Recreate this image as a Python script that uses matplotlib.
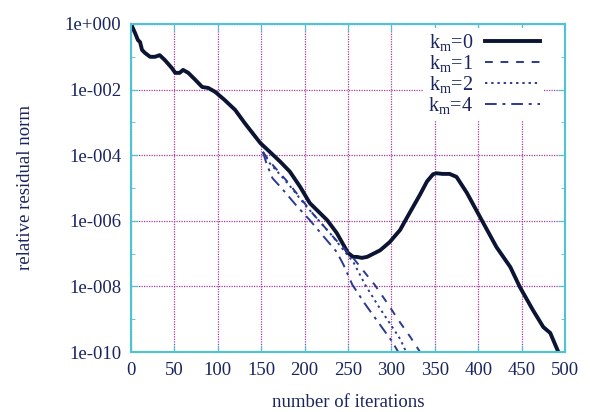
#!/usr/bin/env python3
"""Relative residual norm vs number of iterations for several k_m."""

import matplotlib
matplotlib.use("Agg")
import matplotlib.pyplot as plt
import numpy as np
from matplotlib.ticker import FixedLocator, FuncFormatter, NullFormatter

# km = 0 (exponents of 10)
k0_iter = [0, 4.6, 8, 10.4, 12.7, 16, 22, 27.6, 33, 39, 47, 51, 56, 60, 66, 74, 82, 89,
           97, 108, 120, 131, 149, 160, 172, 183, 195, 206, 226, 237, 250, 256, 260, 266,
           272, 287, 298, 310, 318, 333, 341, 348, 352, 359, 367, 375, 387, 402, 421, 437,
           448, 463, 475, 483, 492]
k0_log = [0.0, -0.27, -0.49, -0.55, -0.79, -0.88, -1.0, -1.0, -0.95, -1.1, -1.34, -1.49,
          -1.49, -1.4, -1.49, -1.7, -1.92, -1.95, -2.07, -2.32, -2.62, -3.02, -3.63, -3.9,
          -4.2, -4.5, -4.97, -5.46, -5.98, -6.37, -6.98, -7.1, -7.1, -7.13, -7.1, -6.9,
          -6.65, -6.28, -5.9, -5.2, -4.8, -4.58, -4.55, -4.57, -4.57, -4.66, -5.15, -5.88,
          -6.8, -7.41, -8.02, -8.72, -9.24, -9.42, -9.98]

# km = 1
k1_iter = [152, 160, 170, 180, 195, 210, 225, 240, 255, 267, 281, 295, 310, 322, 333]
k1_log = [-3.9, -4.2, -4.5, -4.8, -5.3, -5.8, -6.25, -6.7, -7.1, -7.5, -7.96, -8.5,
          -9.1, -9.55, -10.0]

# km = 2
k2_iter = [152, 160, 172, 185, 200, 215, 230, 245, 256, 270, 285, 300, 310, 317]
k2_log = [-3.9, -4.25, -4.6, -5.0, -5.5, -5.95, -6.4, -6.9, -7.25, -7.96, -8.6, -9.2,
          -9.6, -10.0]

# km = 4
k4_iter = [152, 156, 163, 175, 191, 206, 221, 237, 245, 255, 270, 285, 300, 308]
k4_log = [-3.9, -4.25, -4.7, -5.05, -5.55, -5.98, -6.45, -6.95, -7.35, -7.95, -8.55,
          -9.1, -9.65, -10.0]

LINE = "#0b1533"
BLUE = "#2b3a8f"
GRID = "#a43ca4"
SPINE = "#4cc4d4"
TEXT = "#1a2560"

plt.rcParams["font.family"] = ["Liberation Serif", "DejaVu Serif"]
plt.rcParams["mathtext.fontset"] = "custom"
plt.rcParams["mathtext.rm"] = "Liberation Serif"
plt.rcParams["mathtext.it"] = "Liberation Serif"


def main() -> None:
    fig = plt.figure(figsize=(5.9, 4.12), dpi=100)
    ax = fig.add_axes([131 / 590, 1 - 352 / 412, 434 / 590, 328 / 412])

    ax.plot(k0_iter, 10 ** np.array(k0_log), color=LINE, lw=2.8, label=r"k$_{\rm m}$=0")
    ax.plot(k1_iter, 10 ** np.array(k1_log), color=BLUE, lw=1.4, ls=(0, (4, 4)),
            label=r"k$_{\rm m}$=1")
    ax.plot(k2_iter, 10 ** np.array(k2_log), color=BLUE, lw=1.4, ls=(0, (1.2, 2)),
            label=r"k$_{\rm m}$=2")
    ax.plot(k4_iter, 10 ** np.array(k4_log), color=BLUE, lw=1.4, ls=(0, (6, 3, 1.5, 3)),
            label=r"k$_{\rm m}$=4")

    ax.set_yscale("log")
    ax.set_xlim(0, 500)
    ax.set_ylim(1e-10, 1)
    ax.set_xticks(np.arange(0, 501, 50))
    ax.yaxis.set_major_locator(FixedLocator([10.0 ** e for e in range(-10, 1, 2)]))
    ax.yaxis.set_minor_locator(FixedLocator([10.0 ** e for e in range(-9, 0, 2)]))
    ax.yaxis.set_major_formatter(FuncFormatter(
        lambda v, _: "1e%+04d" % int(round(np.log10(v)))))
    ax.yaxis.set_minor_formatter(NullFormatter())
    ax.xaxis.set_minor_locator(FixedLocator([]))

    ax.grid(True, which="major", color=GRID, ls=(0, (1, 1)), lw=0.9)
    for s in ax.spines.values():
        s.set_color(SPINE)
        s.set_linewidth(1.5)
    ax.tick_params(which="both", direction="in", top=True, right=True, color=SPINE,
                   labelcolor=TEXT, labelsize=13.5, length=5, pad=7)
    ax.tick_params(which="minor", length=3)

    ax.set_xlabel("number of iterations", fontsize=13.5, color=TEXT, labelpad=11)
    ax.set_ylabel("relative residual norm", fontsize=13.5, color=TEXT, labelpad=22)

    leg = ax.legend(loc="upper right", bbox_to_anchor=(0.96, 1.0), markerfirst=False,
                    frameon=True, fontsize=14.5, handlelength=2.7, labelspacing=0.0,
                    borderpad=0.2, handletextpad=0.6, borderaxespad=0.2)
    leg.get_frame().set_edgecolor("none")
    leg.get_frame().set_facecolor("white")
    leg.get_frame().set_alpha(1)
    for t in leg.get_texts():
        t.set_color(TEXT)

    fig.savefig("out.png", dpi=100)


if __name__ == "__main__":
    main()
